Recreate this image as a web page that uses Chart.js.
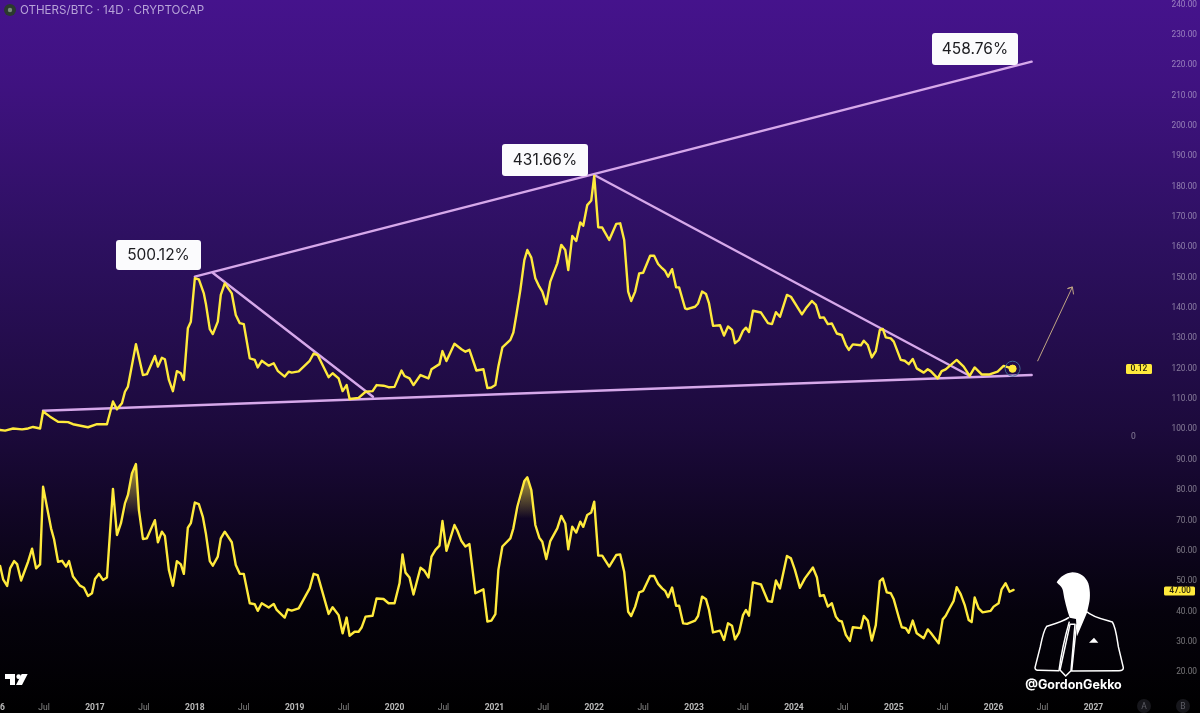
<!DOCTYPE html>
<html><head><meta charset="utf-8">
<style>html,body{margin:0;padding:0;background:#000;overflow:hidden}#w{position:relative;width:1200px;height:713px}</style>
<script src="https://cdn.jsdelivr.net/npm/chart.js@4/dist/chart.umd.min.js"></script>
</head><body><div id="w"><canvas id="c"></canvas></div>
<script>
const title = 'OTHERS/BTC · 14D · CRYPTOCAP';
const calloutLabels = ['500.12%', '431.66%', '458.76%'];
const yTicks = [20,30,40,50,60,70,80,90,100,110,120,130,140,150,160,170,180,190,200,210,220,230,240];
const xTickValues = [2016,2016.49,2017,2017.49,2018,2018.49,2019,2019.49,2020,2020.49,2021,2021.49,2022,2022.49,2023,2023.49,2024,2024.49,2025,2025.49,2026,2026.49,2027];
const xTickLabels = ['2016','Jul','2017','Jul','2018','Jul','2019','Jul','2020','Jul','2021','Jul','2022','Jul','2023','Jul','2024','Jul','2025','Jul','2026','Jul','2027'];

const priceDates = [2016.05,2016.10,2016.18,2016.27,2016.33,2016.38,2016.45,2016.48,2016.55,2016.63,2016.73,2016.78,2016.93,2017.02,2017.12,2017.18,2017.22,2017.27,2017.30,2017.33,2017.41,2017.48,2017.52,2017.60,2017.63,2017.67,2017.70,2017.74,2017.78,2017.82,2017.86,2017.89,2017.93,2017.96,2018.00,2018.04,2018.09,2018.11,2018.15,2018.18,2018.23,2018.26,2018.30,2018.37,2018.41,2018.45,2018.49,2018.55,2018.60,2018.63,2018.67,2018.74,2018.79,2018.83,2018.90,2018.94,2018.97,2019.04,2019.15,2019.19,2019.23,2019.34,2019.38,2019.44,2019.48,2019.52,2019.55,2019.64,2019.71,2019.78,2019.82,2019.89,2019.94,2020.00,
2020.07,2020.10,2020.15,2020.19,2020.26,2020.34,2020.37,2020.45,2020.48,2020.52,2020.60,2020.67,2020.71,2020.75,2020.82,2020.89,2020.93,2020.97,2021.01,2021.04,2021.08,2021.16,2021.19,2021.22,2021.26,2021.30,2021.33,2021.37,2021.41,2021.45,2021.48,2021.52,2021.56,2021.63,2021.67,2021.71,2021.74,2021.78,2021.82,2021.86,2021.89,2021.93,2021.97,2022.00,2022.04,2022.08,2022.15,2022.22,2022.26,2022.30,2022.34,2022.37,2022.41,2022.45,2022.49,2022.56,2022.60,2022.64,2022.68,2022.71,2022.74,2022.78,2022.82,2022.85,2022.91,2022.93,2023.01,2023.04,2023.08,2023.12,2023.15,2023.19,2023.26,2023.30,2023.34,2023.38,2023.41,2023.45,2023.49,2023.52,2023.55,2023.59,2023.67,2023.74,2023.78,2023.82,2023.86,
2023.93,2023.97,2024.08,2024.12,2024.18,2024.22,2024.26,2024.30,2024.34,2024.38,2024.43,2024.48,2024.52,2024.55,2024.59,2024.67,2024.70,2024.74,2024.78,2024.82,2024.86,2024.89,2024.92,2024.97,2025.00,2025.07,2025.11,2025.15,2025.19,2025.23,2025.30,2025.34,2025.37,2025.44,2025.48,2025.52,2025.63,2025.70,2025.76,2025.81,2025.88,2025.96,2026.04,2026.10,2026.19];
const priceValues = [99.8,99.6,100.3,100.0,100.3,100.8,100.3,105.9,104.2,102.5,102.4,101.7,100.7,101.7,101.7,109.2,106.6,108.6,112.4,114.1,128.1,117.9,118.2,124.2,120.7,123.6,123.1,116.3,112.6,119.2,118.5,116.3,133.3,135.5,149.8,149.4,144.8,141.5,133.0,131.4,135.5,144.3,148.1,144.8,137.7,135.0,134.7,123.4,122.9,120.4,122.6,121.0,121.8,119.3,117.4,119.0,118.7,119.1,122.6,125.0,124.5,117.2,118.5,116.8,112.6,114.6,110.0,110.4,112.4,112.6,114.6,114.4,113.9,114.0,
119.4,117.6,116.8,114.6,117.9,116.8,119.8,121.5,125.8,122.5,128.2,126.4,125.6,126.2,119.4,119.8,113.6,113.8,114.6,120.7,127.0,129.5,131.9,137.7,145.9,155.8,159.1,156.6,149.8,147.0,145.4,141.3,148.7,154.7,160.8,159.1,152.5,163.7,162.1,168.2,167.1,173.9,175.4,183.5,166.6,166.5,162.4,167.7,167.9,162.4,145.4,142.3,145.4,151.4,151.6,157.2,157.2,154.5,153.1,152.2,150.3,152.8,146.8,146.8,139.9,139.6,140.4,141.5,145.4,144.6,141.5,134.1,134.3,130.9,133.9,132.8,128.4,129.5,132.5,133.5,132.1,139.1,138.5,135.0,134.7,138.6,137.1,
144.3,143.7,137.9,139.9,142.3,141.0,136.8,136.9,134.7,134.9,131.6,131.1,127.8,126.2,128.0,127.7,129.2,127.8,123.7,125.8,132.7,133.1,130.3,130.0,128.9,122.9,122.6,121.5,123.2,120.1,118.7,119.8,119.2,116.8,119.2,119.8,122.9,120.7,117.6,120.4,118.1,118.1,119.0,120.9,120.0];

const rsiDates = [2016.05,2016.08,2016.12,2016.15,2016.19,2016.22,2016.26,2016.33,2016.37,2016.41,2016.45,2016.48,2016.56,2016.59,2016.63,2016.67,2016.71,2016.74,2016.78,2016.85,2016.89,2016.93,2016.97,2017.00,2017.04,2017.08,2017.12,2017.18,2017.22,2017.26,2017.30,2017.33,2017.37,2017.41,2017.44,2017.48,2017.52,2017.60,2017.63,2017.67,2017.70,2017.74,2017.78,2017.82,2017.86,2017.89,2017.93,2017.96,2018.00,2018.04,2018.08,2018.11,2018.15,2018.18,2018.23,2018.26,2018.30,2018.37,2018.41,2018.45,2018.49,2018.55,2018.60,2018.63,2018.67,2018.74,2018.79,2018.82,2018.90,2018.93,2018.97,2019.04,2019.15,2019.19,2019.23,2019.34,2019.38,2019.44,2019.48,2019.52,2019.55,2019.60,2019.64,2019.67,2019.71,2019.78,2019.82,2019.89,2019.94,2020.00,2020.05,
2020.08,2020.11,2020.15,2020.19,2020.26,2020.30,2020.34,2020.37,2020.41,2020.45,2020.48,2020.52,2020.60,2020.63,2020.67,2020.71,2020.75,2020.81,2020.89,2020.93,2020.97,2021.01,2021.04,2021.08,2021.16,2021.19,2021.23,2021.30,2021.33,2021.37,2021.41,2021.45,2021.48,2021.52,2021.56,2021.63,2021.67,2021.71,2021.74,2021.78,2021.82,2021.86,2021.89,2021.93,2021.97,2022.00,2022.04,2022.08,2022.15,2022.22,2022.26,2022.30,2022.34,2022.37,2022.41,2022.45,2022.49,2022.56,2022.60,2022.64,2022.68,2022.71,2022.74,2022.78,2022.82,2022.85,2022.89,2022.93,2023.01,2023.04,2023.08,2023.12,2023.15,2023.19,2023.26,2023.30,2023.34,2023.38,2023.41,2023.45,2023.49,2023.52,2023.55,2023.59,2023.67,2023.74,2023.78,2023.82,2023.86,2023.93,2023.97,2024.01,
2024.06,2024.11,2024.19,2024.23,2024.26,2024.30,2024.34,2024.38,2024.42,2024.45,2024.48,2024.52,2024.56,2024.59,2024.67,2024.70,2024.74,2024.78,2024.82,2024.86,2024.89,2024.93,2024.97,2025.00,2025.05,2025.08,2025.12,2025.15,2025.19,2025.23,2025.30,2025.34,2025.37,2025.45,2025.49,2025.52,2025.55,2025.60,2025.63,2025.67,2025.71,2025.75,2025.78,2025.81,2025.85,2025.89,2025.97,2026.00,2026.05,2026.08,2026.12,2026.16,2026.20];
const rsiValues = [55.0,50.6,48.4,54.2,56.6,55.6,50.2,56.4,60.7,54.2,55.5,81.1,67.4,63.8,56.4,56.7,54.8,56.6,51.5,48.5,47.8,45.1,46.0,50.7,52.4,50.4,51.2,80.4,65.2,69.1,75.6,78.4,85.5,88.6,73.4,63.9,64.1,70.1,62.8,66.3,64.9,53.7,48.5,56.6,55.5,52.4,67.6,69.1,75.9,75.4,71.2,65.8,56.6,55.1,58.1,64.1,66.3,62.8,55.3,52.4,52.4,42.7,42.4,40.2,42.7,41.3,42.5,40.5,38.0,40.7,40.3,41.0,47.6,52.4,52.0,39.2,41.4,38.8,32.8,38.0,32.0,33.3,33.3,34.7,38.3,38.6,44.3,44.1,42.7,42.7,49.3,
58.8,52.8,51.2,45.6,54.4,53.4,51.2,58.1,60.3,61.7,69.8,60.0,68.5,66.6,63.2,61.4,62.2,46.0,47.3,36.7,37.0,39.1,53.7,61.4,64.1,67.4,74.5,83.0,84.2,80.0,68.5,64.3,63.0,57.3,63.2,67.4,71.5,69.0,60.5,67.9,66.0,69.6,67.9,71.8,72.6,76.2,58.4,58.4,54.8,58.6,58.8,53.1,39.9,38.5,41.6,46.3,46.8,51.7,51.7,49.1,47.6,46.8,44.7,47.9,41.9,41.9,36.1,35.9,37.0,38.5,44.9,44.0,40.5,33.1,33.7,30.6,36.1,35.3,30.8,33.0,38.8,40.5,38.6,49.6,48.9,43.4,43.2,50.2,47.6,58.3,57.5,53.7,
47.8,50.9,54.5,51.3,45.1,45.4,41.6,42.7,38.3,37.0,36.7,32.3,30.3,34.8,34.5,38.5,37.0,30.4,35.5,50.0,50.9,46.3,46.0,44.0,38.1,34.8,34.5,33.0,37.0,32.8,31.2,34.1,33.0,29.5,37.4,38.6,40.5,43.5,48.0,45.7,42.2,37.2,36.5,44.6,41.0,39.7,40.2,41.6,42.7,47.3,49.3,46.5,47.1];

const glowADates = [2017.30,2017.33,2017.37,2017.41,2017.44];
const glowAValues = [71.2,78.4,85.5,88.6,71.2];
const glowBDates = [2021.23,2021.30,2021.33,2021.37,2021.40];
const glowBValues = [70.7,83.0,84.2,80.0,70.7];

const supportDates = [2016.479,2026.381]; const supportValues = [106.16,117.92];
const resistDates = [2018.0,2026.381]; const resistValues = [150.31,221.15];
const fallADates = [2018.182,2019.784]; const fallAValues = [151.53,110.77];
const fallBDates = [2022.0,2025.763]; const fallBValues = [183.82,117.59];
const arrowDates = [2026.441,2026.789,2026.74,2026.789,2026.80]; const arrowValues = [122.53,146.92,146.4,146.92,144.6];
const lastDate = [2026.19]; const lastValue = [120.0];

const pts = (xs, ys) => xs.map((x, i) => ({x, y: ys[i]}));
const YELLOW = '#ffea3c', TREND = '#d6a8ea';
const line = (label, data, color, width) => ({label, data, borderColor: color, borderWidth: width, pointRadius: 0, tension: 0, fill: false, borderJoinStyle: 'round', borderCapStyle: 'round'});
const noPad = s => { s.paddingLeft = s.paddingRight = s.paddingTop = s.paddingBottom = 0; };

function rr(ctx, x, y, w, h, r) { ctx.beginPath(); ctx.roundRect(x, y, w, h, r); }

const decor = {
  id: 'decor',
  beforeDraw(chart) {
    const {ctx} = chart;
    const g = ctx.createLinearGradient(0, 0, 0, 713);
    [[0,'#45138c'],[0.12,'#3f1280'],[0.34,'#2d1060'],[0.6,'#1c0a3c'],[0.72,'#110625'],[0.86,'#05020c'],[1,'#000000']].forEach(s => g.addColorStop(s[0], s[1]));
    ctx.save(); ctx.fillStyle = g; ctx.fillRect(0, 0, 1200, 713); ctx.restore();
  },
  afterDraw(chart) {
    const {ctx} = chart;
    ctx.save();
    ctx.fillStyle = '#2b3a2e'; ctx.beginPath(); ctx.arc(10, 10, 6, 0, 7); ctx.fill();
    ctx.fillStyle = '#7d8a82'; ctx.beginPath(); ctx.arc(10, 10, 2.2, 0, 7); ctx.fill();
    ctx.font = '11.6px Inter'; ctx.fillStyle = '#b7a3d8'; ctx.textAlign = 'left'; ctx.textBaseline = 'middle';
    ctx.fillText(title, 20, 10.5);
    const boxes = [[116,240,85,30],[502,144,86,32],[932,33,86,32]];
    boxes.forEach((b, i) => {
      ctx.fillStyle = '#fbfbfd'; rr(ctx, b[0], b[1], b[2], b[3], 3); ctx.fill();
      ctx.fillStyle = '#1c1c20'; ctx.font = '15.5px Inter'; ctx.textAlign = 'center'; ctx.textBaseline = 'middle';
      ctx.fillText(calloutLabels[i], b[0] + b[2] / 2, b[1] + b[3] / 2 + 0.5);
    });
    ctx.fillStyle = YELLOW; rr(ctx, 1126, 364, 26, 10, 1.5); ctx.fill();
    rr(ctx, 1164, 586.5, 31, 9, 1.5); ctx.fill();
    ctx.fillStyle = '#2a2410'; ctx.font = '500 8.5px Roboto'; ctx.textAlign = 'center'; ctx.textBaseline = 'middle';
    ctx.fillText('0.12', 1139, 369.3); ctx.fillText('47.00', 1180, 591.2);
    ctx.fillStyle = 'rgba(255,255,255,0.45)'; ctx.font = '8.5px Roboto'; ctx.fillText('0', 1133.5, 436.5);
    [[1144,'A'],[1183,'B']].forEach(p => {
      ctx.fillStyle = '#17171c'; ctx.beginPath(); ctx.arc(p[0], 706, 7, 0, 7); ctx.fill();
      ctx.fillStyle = '#5e5e66'; ctx.fillText(p[1], p[0], 706.5);
    });
    ctx.save(); ctx.scale(1/3, 1/3); ctx.translate(0, 1350);
    ctx.fillStyle = '#fff';
    ctx.fill(new Path2D('M15 672H45V705H30V687H15Z M83 672L66 705H48L65 672Z'));
    ctx.beginPath(); ctx.arc(56, 680, 7, 0, 7); ctx.fill();
    ctx.restore();
    ctx.save(); ctx.translate(1025, 565); ctx.scale(1/3, 1/3);
    ctx.fillStyle = '#fff';
    ctx.fill(new Path2D('M95 52C105 35 122 24 142 22C165 22 182 35 190 55C197 80 196 105 190 125L186 143L156 214L153 162L134 158C126 135 118 105 114 78C112 66 102 60 95 52Z'));
    ctx.fill(new Path2D('M192 233L207 218L220 233Z'));
    ctx.strokeStyle = '#fff'; ctx.lineWidth = 4.5; ctx.lineJoin = 'round';
    ctx.stroke(new Path2D('M132 157C118 168 88 177 65 184C55 198 50 225 46 245L30 308C30 314 34 316 42 316L102 317C108 270 120 215 133 170'));
    ctx.stroke(new Path2D('M186 140C200 155 235 163 262 171C272 185 276 220 280 245L295 308C295 315 290 317 282 317L140 318C145 270 150 220 155 178'));
    ctx.stroke(new Path2D('M135 178L105 315L122 333L138 317L150 178Z'));
    ctx.restore();
    ctx.fillStyle = '#fff'; ctx.font = 'bold 12.5px Inter'; ctx.textAlign = 'center'; ctx.textBaseline = 'middle';
    ctx.fillText('@GordonGekko', 1073.5, 685.5);
    ctx.restore();
  }
};

new Chart(document.getElementById('c'), {
  type: 'line',
  data: {datasets: [
    {label: 'Last', data: pts(lastDate, lastValue), borderColor: YELLOW, backgroundColor: YELLOW, pointRadius: 3.6, showLine: false},
    {label: 'Last ring', data: pts(lastDate, lastValue), borderColor: '#3f6b94', backgroundColor: 'transparent', borderWidth: 1, pointRadius: 7.5, showLine: false},
    line('OTHERS/BTC', pts(priceDates, priceValues), YELLOW, 2.4),
    line('RSI', pts(rsiDates, rsiValues), YELLOW, 2.4),
    ...[pts(glowADates, glowAValues), pts(glowBDates, glowBValues)].map((d, i) => ({
      label: 'RSI glow ' + i, data: d, borderWidth: 0, pointRadius: 0, tension: 0,
      fill: {target: {value: i ? 70.7 : 71.2}},
      backgroundColor: c => {
        const a = c.chart.chartArea; if (!a) return 'transparent';
        const s = c.chart.scales.y, g = c.chart.ctx.createLinearGradient(0, s.getPixelForValue(i ? 84 : 88), 0, s.getPixelForValue(i ? 70.7 : 71.2));
        g.addColorStop(0, 'rgba(255,234,60,0.62)'); g.addColorStop(1, 'rgba(255,234,60,0)'); return g;
      }
    })),
    line('Support', pts(supportDates, supportValues), TREND, 2.4),
    line('Resistance', pts(resistDates, resistValues), TREND, 2.4),
    line('Fall A', pts(fallADates, fallAValues), TREND, 2.4),
    line('Fall B', pts(fallBDates, fallBValues), TREND, 2.4),
    line('Arrow', pts(arrowDates, arrowValues), '#c0a583', 1)
  ]},
  options: {
    responsive: true, maintainAspectRatio: false, animation: false,
    layout: {padding: 0, autoPadding: false},
    plugins: {legend: {display: false}, tooltip: {enabled: false}},
    scales: {
      x: {
        type: 'linear', min: 2016.0486, max: 2028.067, position: 'bottom',
        grid: {display: false, drawTicks: false}, border: {display: false},
        afterFit: s => { s.height = 0; noPad(s); },
        afterBuildTicks: s => { s.ticks = xTickValues.map(v => ({value: v, major: Number.isInteger(v)})); },
        ticks: {
          autoSkip: false, maxRotation: 0, mirror: true, padding: 0,
          callback: v => xTickLabels[xTickValues.indexOf(v)],
          font: c => ({family: 'Roboto', size: 8.5, weight: c.tick && c.tick.major ? '700' : '400'}),
          color: c => c.tick && c.tick.major ? 'rgba(255,255,255,0.72)' : 'rgba(255,255,255,0.5)'
        }
      },
      y: {
        type: 'linear', min: 6.55, max: 241.48, position: 'right',
        grid: {display: false, drawTicks: false}, border: {display: false},
        afterFit: s => { s.width = 0; noPad(s); },
        afterBuildTicks: s => { s.ticks = yTicks.map(v => ({value: v})); },
        ticks: {
          autoSkip: false, mirror: true, padding: -3,
          callback: v => v.toFixed(2),
          font: {family: 'Roboto', size: 8.3},
          color: 'rgba(255,255,255,0.45)'
        }
      }
    }
  },
  plugins: [decor]
});
</script></body></html>
